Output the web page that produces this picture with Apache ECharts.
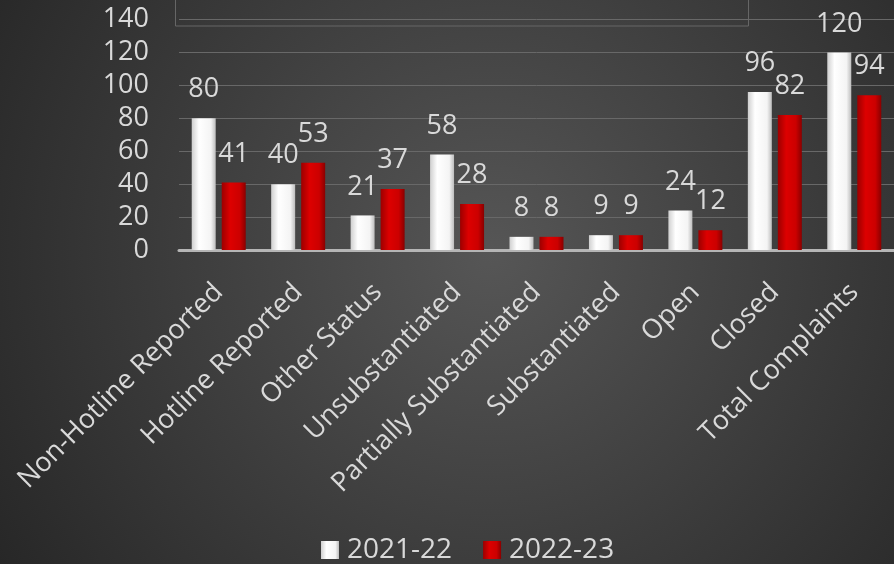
<!DOCTYPE html>
<html>
<head>
<meta charset="utf-8">
<script src="https://cdn.jsdelivr.net/npm/echarts@6/dist/echarts.min.js"></script>
<style>
  html, body { margin: 0; padding: 0; }
  #main {
    width: 894px;
    height: 564px;
    background: radial-gradient(circle at 55% 45%, #565656 0%, #3c3c3c 55%, #272727 100%);
  }
</style>
</head>
<body>
<div id="main"></div>
<script>
const categories = [
  'Non-Hotline Reported',
  'Hotline Reported',
  'Other Status',
  'Unsubstantiated',
  'Partially Substantiated',
  'Substantiated',
  'Open',
  'Closed',
  'Total Complaints'
]
const seriesNames = ['2021-22', '2022-23']
const values2122 = [80, 40, 21, 58, 8, 9, 24, 96, 120]
const values2223 = [41, 53, 37, 28, 8, 9, 12, 82, 94]
const yTicks = { min: 0, max: 140, interval: 20 }

const myChart = echarts.init(document.getElementById('main'))
const font = '"Open Sans", sans-serif'
const textColor = '#d9d9d9'

const whiteFill = new echarts.graphic.LinearGradient(0, 0, 1, 0, [
  { offset: 0, color: '#cfcfcf' },
  { offset: 0.3, color: '#ffffff' },
  { offset: 0.8, color: '#f4f4f4' },
  { offset: 1, color: '#bdbdbd' }
])
const redFill = new echarts.graphic.LinearGradient(0, 0, 1, 0, [
  { offset: 0, color: '#9c0000' },
  { offset: 0.35, color: '#dd0000' },
  { offset: 0.75, color: '#cc0000' },
  { offset: 1, color: '#8a0000' }
])

const label = {
  show: true,
  position: 'top',
  distance: 15,
  color: textColor,
  fontFamily: font,
  fontSize: 27
}

const option = {
  backgroundColor: 'transparent',
  animation: false,
  grid: {
    left: 179,
    width: 720,
    top: 19.5,
    bottom: 314
  },
  legend: {
    top: 531,
    left: 316,
    icon: 'rect',
    itemWidth: 18,
    itemHeight: 18,
    itemGap: 31,
    textStyle: {
      color: textColor,
      fontFamily: font,
      fontSize: 28,
      padding: [0, 0, 0, 3]
    },
    data: seriesNames
  },
  graphic: [
    {
      type: 'rect',
      silent: true,
      shape: { x: 175.5, y: -5, width: 573, height: 31 },
      style: { fill: 'none', stroke: '#666666', lineWidth: 1 }
    }
  ],
  xAxis: {
    type: 'category',
    data: categories,
    axisTick: { show: false },
    axisLine: {
      show: true,
      lineStyle: { color: '#b5b5b5', width: 3 }
    },
    axisLabel: {
      rotate: 45,
      margin: 38,
      interval: 0,
      color: textColor,
      fontFamily: font,
      fontSize: 27
    }
  },
  yAxis: {
    type: 'value',
    min: yTicks.min,
    max: yTicks.max,
    interval: yTicks.interval,
    axisLine: { show: false },
    axisTick: { show: false },
    axisLabel: {
      margin: 30,
      color: textColor,
      fontFamily: font,
      fontSize: 27
    },
    splitLine: {
      lineStyle: { color: '#686868', width: 1 }
    }
  },
  series: [
    {
      name: seriesNames[0],
      type: 'bar',
      barWidth: 24,
      barGap: '25%',
      itemStyle: { color: whiteFill },
      label: label,
      data: values2122
    },
    {
      name: seriesNames[1],
      type: 'bar',
      barWidth: 24,
      barGap: '25%',
      itemStyle: { color: redFill },
      label: label,
      data: values2223
    }
  ]
}
myChart.setOption(option)
</script>
</body>
</html>
